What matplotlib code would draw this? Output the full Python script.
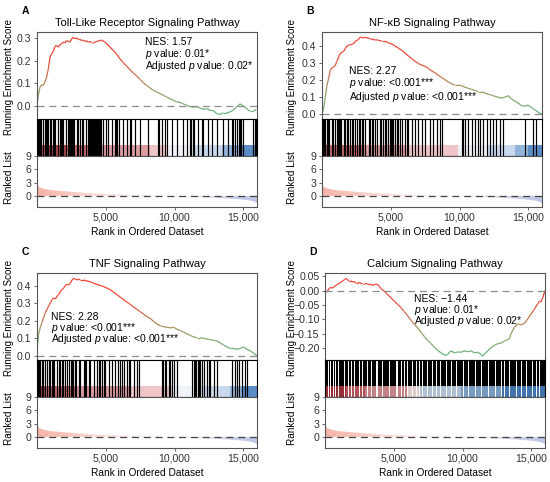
import numpy as np
import matplotlib.pyplot as plt
from matplotlib.collections import LineCollection
from matplotlib.colors import LinearSegmentedColormap
from matplotlib.ticker import FuncFormatter

plt.rcParams['font.family'] = ['Liberation Sans', 'DejaVu Sans']
plt.rcParams['mathtext.fontset'] = 'custom'
plt.rcParams['mathtext.rm'] = 'Liberation Sans'
plt.rcParams['mathtext.it'] = 'Liberation Sans:italic'
plt.rcParams['lines.scale_dashes'] = False

N_GENES = 16000

# ranked list metric (same gene list for all four panels)
rank_x = [0, 50, 150, 300, 500, 800, 1200, 1600, 2200, 3000, 4000, 5000, 6000, 7000,
          8000, 9000, 10000, 11000, 12000, 13000, 14000, 15000, 15500, 15800, 16000]
rank_metric = [2.7, 2.3, 2.0, 1.8, 1.6, 1.4, 1.25, 1.15, 1.0, 0.8, 0.6, 0.45, 0.32, 0.2,
               0.1, 0.03, -0.05, -0.15, -0.28, -0.42, -0.6, -0.85, -1.05, -1.3, -1.6]

# A: Toll-like receptor
es_x_a = [0, 97, 218, 339, 461, 582, 703, 824, 945, 1067, 1188, 1309, 1430, 1551, 1673, 1794,
          1915, 2036, 2157, 2279, 2400, 2521, 2642, 2763, 2885, 3006, 3127, 3248, 3370, 3491,
          3612, 3733, 3854, 3976, 4097, 4218, 4339, 4460, 4582, 4703, 4824, 4945, 5066, 5309,
          5551, 5794, 6036, 6278, 6521, 6763, 7006, 7248, 7490, 7733, 7975, 8218, 8460, 8703,
          8945, 9188, 9430, 9672, 9915, 10157, 10400, 10642, 10885, 11127, 11369, 11612,
          11854, 12097, 12339, 12582, 12824, 13066, 13309, 13551, 13794, 14036, 14278, 14521,
          14763, 15006, 15248, 15491, 15733, 15951]
es_y_a = [0.0, 0.047, 0.084, 0.094, 0.091, 0.106, 0.128, 0.165, 0.217, 0.232, 0.242, 0.265,
          0.268, 0.261, 0.271, 0.276, 0.283, 0.28, 0.29, 0.286, 0.283, 0.298, 0.304, 0.298,
          0.302, 0.295, 0.295, 0.29, 0.292, 0.286, 0.289, 0.283, 0.286, 0.28, 0.28, 0.283,
          0.286, 0.288, 0.29, 0.292, 0.288, 0.283, 0.276, 0.261, 0.246, 0.229, 0.209, 0.192,
          0.176, 0.161, 0.146, 0.133, 0.118, 0.103, 0.091, 0.08, 0.069, 0.062, 0.055, 0.047,
          0.04, 0.032, 0.025, 0.018, 0.015, 0.009, 0.003, -0.003, -0.006, -0.003, -0.009,
          -0.015, -0.012, -0.019, -0.021, -0.034, -0.038, -0.03, -0.03, -0.027, -0.018,
          -0.004, 0.009, 0.0, -0.012, -0.024, -0.024, -0.015]
hits_a = [97, 170, 242, 315, 461, 582, 654, 751, 824, 945, 1018, 1188, 1260, 1333, 1551, 1673,
          1745, 1818, 1915, 2109, 2279, 2351, 2424, 2497, 2570, 2642, 2715, 2885, 2982, 3127,
          3248, 3345, 3563, 3733, 3806, 3878, 3951, 4024, 4097, 4170, 4242, 4315, 4388, 4460,
          4533, 4606, 4679, 4824, 5018, 5187, 5430, 5672, 5769, 5842, 5987, 6278, 6521, 6763,
          6860, 7127, 7490, 8097, 8824, 8897, 9066, 9309, 9430, 9794, 10157, 10642, 10885,
          11127, 11224, 11321, 11418, 11733, 11975, 12097, 12460, 12703, 13066, 13551, 13915,
          14157, 14278, 14400, 14570, 14666, 14763, 14860, 14957, 15733, 15830, 15927]

# B: NF-kB
es_x_b = [0, 121, 242, 363, 483, 604, 725, 846, 967, 1088, 1209, 1329, 1450, 1571, 1692, 1813,
          1934, 2054, 2175, 2296, 2417, 2538, 2659, 2780, 2900, 3021, 3142, 3263, 3384, 3505,
          3626, 3746, 3867, 3988, 4109, 4351, 4592, 4834, 5076, 5317, 5559, 5801, 6043, 6284,
          6526, 6768, 7009, 7251, 7493, 7734, 7976, 8218, 8460, 8701, 8943, 9185, 9426, 9668,
          9910, 10151, 10393, 10635, 10876, 11118, 11360, 11602, 11843, 12085, 12327, 12568,
          12810, 13052, 13293, 13535, 13777, 14019, 14260, 14502, 14744, 14985, 15227, 15469,
          15710, 16000]
es_y_b = [0.0, 0.035, 0.10, 0.17, 0.209, 0.257, 0.27, 0.276, 0.286, 0.309, 0.334, 0.354,
          0.363, 0.367, 0.383, 0.398, 0.402, 0.406, 0.408, 0.412, 0.425, 0.431, 0.437, 0.45,
          0.448, 0.446, 0.45, 0.444, 0.446, 0.44, 0.44, 0.437, 0.433, 0.435, 0.431, 0.427,
          0.427, 0.417, 0.41, 0.398, 0.386, 0.373, 0.357, 0.34, 0.325, 0.309, 0.296, 0.286,
          0.28, 0.267, 0.253, 0.242, 0.228, 0.214, 0.201, 0.189, 0.178, 0.17, 0.17, 0.166,
          0.158, 0.151, 0.145, 0.139, 0.131, 0.131, 0.124, 0.116, 0.112, 0.104, 0.10, 0.093,
          0.10, 0.108, 0.089, 0.077, 0.066, 0.05, 0.046, 0.054, 0.039, 0.027, 0.012, 0.0]
hits_b = [48, 145, 242, 338, 435, 532, 725, 822, 967, 1088, 1160, 1233, 1305, 1402, 1571, 1692,
          1789, 1885, 2054, 2151, 2248, 2417, 2514, 2659, 2780, 2876, 2973, 3142, 3384, 3505,
          3601, 3698, 3867, 3988, 4230, 4327, 4472, 4592, 4689, 4786, 4955, 5028, 5100, 5172,
          5317, 5438, 5559, 5680, 5849, 6043, 6164, 6284, 6526, 6768, 7009, 7251, 7493, 7855,
          8097, 8339, 8581, 8701, 10151, 10272, 10393, 10635, 10876, 11118, 11360, 11457,
          11722, 11964, 12206, 12448, 12689, 12931, 13173, 14744, 15348, 15590]

# C: TNF
es_x_c = [0, 121, 242, 364, 485, 606, 727, 848, 970, 1091, 1212, 1333, 1454, 1576, 1697, 1818,
          1939, 2060, 2182, 2303, 2424, 2545, 2666, 2788, 2909, 3030, 3151, 3394, 3636, 3878,
          4121, 4363, 4606, 4848, 5090, 5333, 5575, 5818, 6060, 6302, 6545, 6787, 7030, 7272,
          7514, 7757, 7999, 8242, 8484, 8726, 8969, 9211, 9454, 9696, 9938, 10181, 10423,
          10666, 10908, 11150, 11393, 11635, 11878, 12120, 12362, 12605, 12847, 13090, 13332,
          13574, 13817, 14059, 14302, 14544, 14786, 15029, 15271, 15514, 15756, 16000]
es_y_c = [0.03, 0.125, 0.163, 0.19, 0.219, 0.247, 0.265, 0.284, 0.303, 0.321, 0.331, 0.325,
          0.34, 0.35, 0.368, 0.378, 0.387, 0.402, 0.409, 0.406, 0.415, 0.434, 0.443, 0.439,
          0.434, 0.439, 0.434, 0.434, 0.428, 0.424, 0.415, 0.409, 0.402, 0.396, 0.387, 0.378,
          0.364, 0.35, 0.335, 0.321, 0.307, 0.293, 0.279, 0.265, 0.252, 0.237, 0.224, 0.213,
          0.196, 0.181, 0.172, 0.166, 0.163, 0.159, 0.163, 0.151, 0.144, 0.135, 0.125, 0.116,
          0.107, 0.103, 0.103, 0.099, 0.095, 0.092, 0.088, 0.084, 0.073, 0.06, 0.05, 0.041,
          0.041, 0.036, 0.041, 0.05, 0.036, 0.028, 0.013, 0.0]
hits_c = [48, 145, 242, 339, 436, 606, 727, 873, 970, 1067, 1164, 1260, 1454, 1576, 1697, 1794,
          1891, 2060, 2157, 2303, 2448, 2545, 2642, 2739, 2836, 3030, 3151, 3394, 3491, 3588,
          3757, 3878, 4121, 4363, 4484, 4606, 4751, 4848, 4945, 5212, 5454, 5696, 5866, 6012,
          6181, 6302, 6545, 6666, 6787, 7030, 7272, 7393, 9090, 9187, 9284, 9381, 9575, 9696,
          9817, 9938, 10181, 11272, 11393, 11490, 11587, 11684, 11781, 11878, 11999, 12120,
          12362, 12484, 12605, 12847, 13090, 14180, 14423, 14544, 14665, 14907, 15150, 15271]

# D: Calcium (hits so dense that the gaps between them are listed instead)
es_x_d = [0, 194, 315, 436, 558, 679, 800, 921, 1042, 1164, 1285, 1406, 1527, 1648, 1770, 1891,
          2012, 2133, 2254, 2376, 2497, 2618, 2739, 2860, 2982, 3103, 3224, 3345, 3466, 3588,
          3709, 3830, 3951, 4072, 4315, 4557, 4800, 5042, 5284, 5527, 5769, 6012, 6254, 6496,
          6739, 6981, 7224, 7466, 7708, 7951, 8193, 8436, 8678, 8799, 8920, 9163, 9405, 9648,
          9890, 10132, 10375, 10617, 10860, 11102, 11345, 11466, 11587, 11829, 12072, 12314,
          12556, 12799, 13041, 13284, 13405, 13526, 13769, 14011, 14254, 14496, 14738, 14981,
          15223, 15465, 15586, 15708, 15829, 15950, 16000]
es_y_d = [-0.008, 0.0, 0.009, 0.011, 0.009, 0.015, 0.018, 0.023, 0.026, 0.03, 0.034, 0.038,
          0.043, 0.038, 0.034, 0.034, 0.03, 0.032, 0.026, 0.026, 0.029, 0.026, 0.023, 0.023,
          0.025, 0.023, 0.021, 0.023, 0.018, 0.021, 0.023, 0.021, 0.015, 0.007, -0.002,
          -0.014, -0.025, -0.037, -0.048, -0.059, -0.073, -0.088, -0.103, -0.117, -0.13,
          -0.145, -0.16, -0.174, -0.185, -0.197, -0.208, -0.217, -0.224, -0.226, -0.222,
          -0.21, -0.217, -0.214, -0.215, -0.21, -0.213, -0.21, -0.217, -0.215, -0.222, -0.229,
          -0.222, -0.21, -0.199, -0.191, -0.185, -0.183, -0.176, -0.171, -0.168, -0.151,
          -0.128, -0.117, -0.119, -0.114, -0.099, -0.082, -0.065, -0.046, -0.037, -0.039,
          -0.025, -0.008, 0.0]
gaps_d = [200, 390, 560, 730, 970, 1400, 1650, 1880, 2130, 2470, 2720, 3080, 3320, 3680, 3800,
          4170, 4650, 5130, 5250, 5500, 5740, 5980, 6350, 6590, 6830, 7070, 7440, 7800, 8060,
          8330, 8780, 9150, 9540, 10030, 10400, 10880, 11360, 11840, 12330, 12800, 13040,
          13400, 13890, 14250, 14610, 15090, 15340, 15580]

# colour strip under the barcode
strip_palette = ['#2E67AB', '#4A80C0', '#86ABD6', '#C3D5EB', '#EEF2F8',
                 '#F8E4E5', '#EEBFC1', '#DB9296', '#C45E64', '#A5353B']
strip_edges_a = [0, 2160, 4700, 8220, 9550, 11490, 13430, 14890, 16000]
strip_cols_a = [9, 8, 7, 6, 4, 3, 2, 1]
strip_edges_b = [0, 600, 3000, 6000, 9900, 12100, 14000, 15000, 16000]
strip_cols_b = [9, 8, 7, 6, 4, 3, 2, 1]
strip_edges_c = [0, 600, 2900, 6800, 9900, 12100, 14000, 15000, 16000]
strip_cols_c = [9, 8, 7, 6, 4, 3, 2, 1]
strip_edges_d = [0, 1500, 2900, 6000, 6800, 9900, 12800, 16000]
strip_cols_d = [9, 8, 7, 5, 3, 2, 1]

es_cmap = LinearSegmentedColormap.from_list(
    'es', [(0, '#67B381'), (0.25, '#8FA56B'), (0.42, '#B2875A'), (0.62, '#DA5640'),
           (0.78, '#EC4537'), (1, '#EE4336')])
rank_cmap = LinearSegmentedColormap.from_list('rk', ['#F5B3A8', '#FAE3DF', '#E3E3F1', '#BFC5E6'])

SPINE = '#555555'
W, H = 550, 482


def box(l, t, w, h):
    return [l / W, 1 - (t + h) / H, w / W, h / H]


def style(ax):
    for s in ax.spines.values():
        s.set_color(SPINE)
        s.set_linewidth(0.8)
    ax.tick_params(length=2.5, width=0.6, color=SPINE, labelsize=7.6, labelcolor='#333333', pad=1.5)


fig = plt.figure(figsize=(5.5, 4.82), dpi=100)


def draw_panel(left, top, letter, title, es_x, es_y, ylim, yticks, yfmt,
               hits, gaps, edges, cols, stats, txt_x, txt_y, lab_x):
    wid = 220
    ax1 = fig.add_axes(box(left, top, wid, 87))
    ax2 = fig.add_axes(box(left, top + 87, wid, 37))
    ax3 = fig.add_axes(box(left, top + 124, wid, 51))

    # running enrichment score
    x = np.array(es_x, dtype=float)
    y = np.array(es_y)
    seg = np.stack([np.column_stack([x[:-1], y[:-1]]), np.column_stack([x[1:], y[1:]])], axis=1)
    mid = (y[:-1] + y[1:]) / 2
    lc = LineCollection(seg, colors=es_cmap((mid - y.min()) / (y.max() - y.min())), linewidths=0.9)
    ax1.add_collection(lc)
    ax1.axhline(0, color='#8C8C8C', lw=0.9, dashes=(5, 3.5))
    ax1.set_xlim(0, N_GENES)
    ax1.set_ylim(*ylim)
    ax1.set_yticks(yticks)
    ax1.yaxis.set_major_formatter(FuncFormatter(lambda v, p: yfmt.format(v).replace('-', '\u2212')))
    ax1.set_xticks([])
    style(ax1)
    ax1.set_title(title, fontsize=8, pad=4)
    for i, s in enumerate(stats):
        ax1.text(txt_x, txt_y[i], s, transform=ax1.transAxes, fontsize=7.5, va='center', ha='left')

    # barcode of gene set members
    if gaps is None:
        ax2.vlines(hits, 0, 1, colors='black', lw=0.85)
    else:
        ax2.axvspan(0, N_GENES, color='black', lw=0)
        ax2.vlines(gaps, 0, 1, colors='white', lw=0.7)
    for i in range(len(cols)):
        ax2.axvspan(edges[i], edges[i + 1], ymin=0, ymax=0.29, color=strip_palette[cols[i]],
                    alpha=0.9, lw=0)
    ax2.set_xlim(0, N_GENES)
    ax2.set_ylim(0, 1)
    ax2.set_xticks([])
    ax2.set_yticks([])
    style(ax2)
    for s in ax2.spines.values():
        s.set_color('black')

    # ranked list
    poly = ax3.fill_between(rank_x, rank_metric, 0, color='none', lw=0)
    im = ax3.imshow(np.linspace(0, 1, 256).reshape(1, -1), extent=[0, N_GENES, -2.5, 9],
                    aspect='auto', cmap=rank_cmap, interpolation='bilinear')
    im.set_clip_path(poly.get_paths()[0], transform=ax3.transData)
    ax3.axhline(0, color='#444444', lw=0.9, dashes=(5, 3.5))
    ax3.set_xlim(0, N_GENES)
    ax3.set_ylim(-2.5, 9)
    ax3.set_yticks([0, 3, 6, 9])
    ax3.set_xticks([5000, 10000, 15000])
    ax3.xaxis.set_major_formatter(FuncFormatter(lambda v, p: f'{int(v):,}'))
    style(ax3)
    ax3.set_xlabel('Rank in Ordered Dataset', fontsize=7.3, labelpad=3)

    fig.text(lab_x / W, 1 - (top + 45) / H, 'Running Enrichment Score', rotation=90,
             fontsize=7.0, ha='center', va='center')
    fig.text(lab_x / W, 1 - (top + 146) / H, 'Ranked List', rotation=90,
             fontsize=7.2, ha='center', va='center')
    fig.text((left - 12) / W, 1 - (top - 21) / H, letter, fontsize=7.5, fontweight='bold',
             ha='center', va='center')


draw_panel(37, 32, 'A', 'Toll-Like Receptor Signaling Pathway', es_x_a, es_y_a,
           (-0.058, 0.328), [0.0, 0.1, 0.2, 0.3], '{:.1f}', hits_a, None,
           strip_edges_a, strip_cols_a,
           ['NES: 1.57', '$p$ value: 0.01*', 'Adjusted $p$ value: 0.02*'],
           0.49, [0.882, 0.747, 0.613], 9)
draw_panel(322, 32, 'B', 'NF-\u03baB Signaling Pathway', es_x_b, es_y_b,
           (-0.028, 0.48), [0.0, 0.1, 0.2, 0.3, 0.4], '{:.1f}', hits_b, None,
           strip_edges_b, strip_cols_b,
           ['NES: 2.27', '$p$ value: <0.001***', 'Adjusted $p$ value: <0.001***'],
           0.123, [0.552, 0.41, 0.256], 292)
draw_panel(37, 273, 'C', 'TNF Signaling Pathway', es_x_c, es_y_c,
           (-0.025, 0.474), [0.0, 0.1, 0.2, 0.3, 0.4], '{:.1f}', hits_c, None,
           strip_edges_c, strip_cols_c,
           ['NES: 2.28', '$p$ value: <0.001***', 'Adjusted $p$ value: <0.001***'],
           0.062, [0.50, 0.365, 0.237], 9)
draw_panel(325, 273, 'D', 'Calcium Signaling Pathway', es_x_d, es_y_d,
           (-0.242, 0.0616), [-0.20, -0.15, -0.10, -0.05, 0.0, 0.05], '{:.2f}', None, gaps_d,
           strip_edges_d, strip_cols_d,
           ['NES: \u22121.44', '$p$ value: 0.01*', 'Adjusted $p$ value: 0.02*'],
           0.406, [0.696, 0.575, 0.444], 292)

fig.savefig('out.png', dpi=100)
